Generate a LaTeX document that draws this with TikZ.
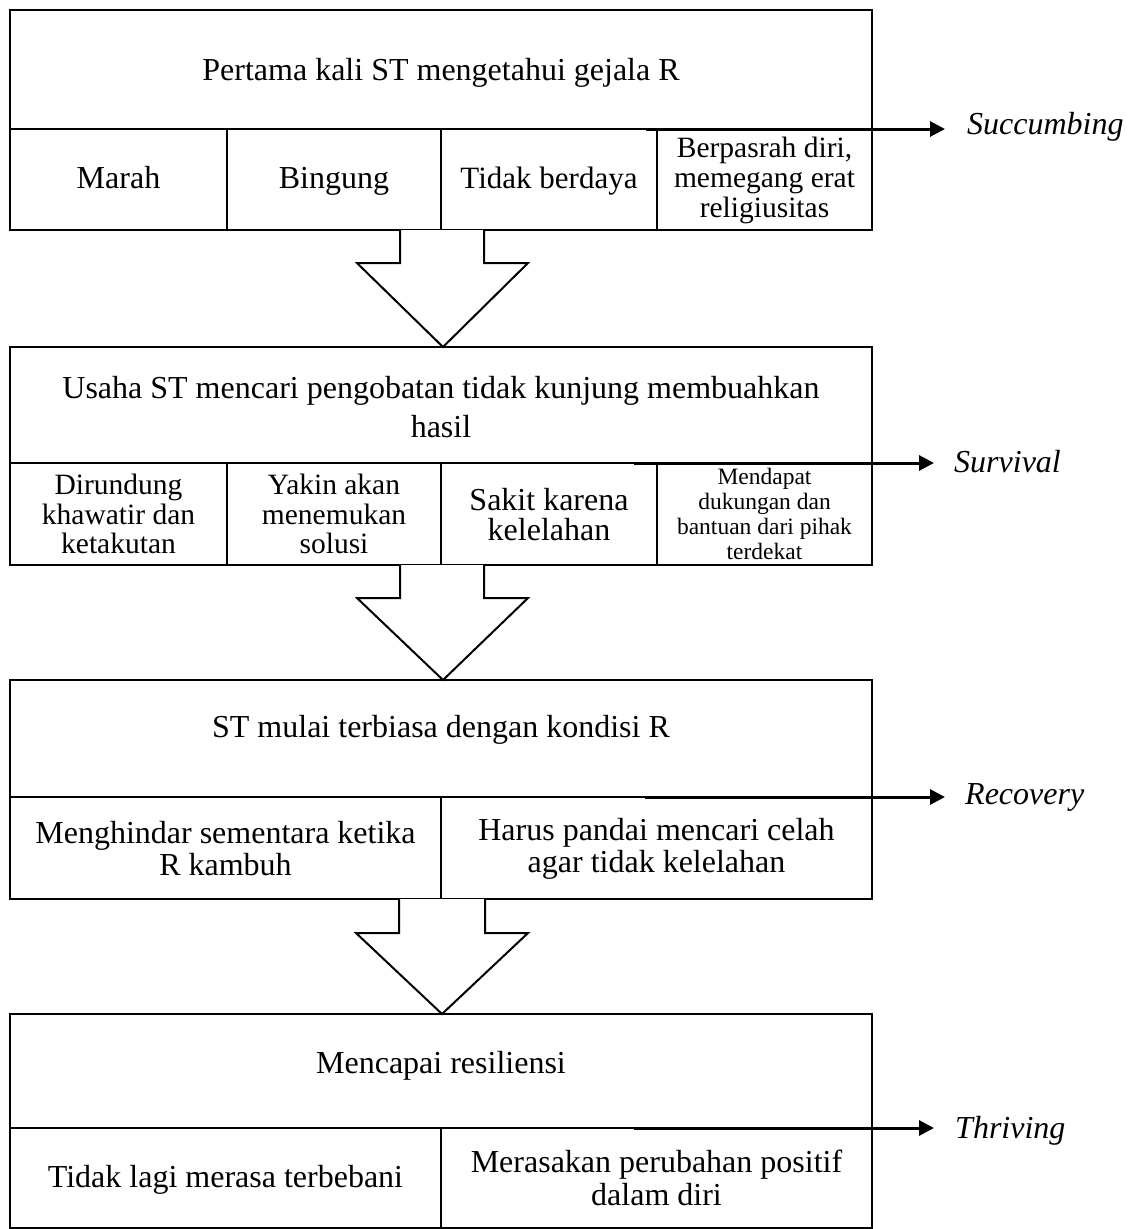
\documentclass[tikz,border=0pt]{standalone}
\usepackage{fontspec}
\setmainfont{Liberation Serif}
\usetikzlibrary{arrows.meta}
\begin{document}
\begin{tikzpicture}[x=1pt,y=-1pt,
  cell/.style={draw, line width=2pt, inner sep=0pt},
  txt/.style={inner sep=0pt, align=center, font=\fontsize{32}{34}\selectfont},
  oneline/.style={text height=22.4pt, text depth=7.4pt},
  txtm/.style={inner sep=0pt, align=center, font=\fontsize{29.5}{29.5}\selectfont},
  txts/.style={inner sep=0pt, align=center, font=\fontsize{23.5}{25}\selectfont},
  lab/.style={inner sep=0pt, anchor=west, font=\itshape\fontsize{32}{34}\selectfont},
  flow/.style={line width=3pt, -{Triangle[length=15pt,width=15pt]}},
  blockarrow/.style={draw, line width=2pt, fill=white, line join=miter}]
\useasboundingbox (0,0) rectangle (1139,1229);

% ---- Box 1
\node[cell, minimum width=862pt, minimum height=119pt] (b1) at (441,69.5) {};
\node[cell, minimum width=217pt, minimum height=101pt] (b1c1) at (118.5,179.5) {};
\node[cell, minimum width=214pt, minimum height=101pt] (b1c2) at (334,179.5) {};
\node[cell, minimum width=216pt, minimum height=101pt] (b1c3) at (549,179.5) {};
\node[cell, minimum width=215pt, minimum height=101pt] (b1c4) at (764.5,179.5) {};
\node[txt, oneline] (b1t) at (441,72.5) {Pertama kali ST mengetahui gejala R};
\node[txt, oneline] (b1c1t) at (118.5,180.5) {Marah};
\node[txt, oneline] (b1c2t) at (334,180.5) {Bingung};
\node[txt, oneline, font=\fontsize{31}{34}\selectfont] (b1c3t) at (549,180.5) {Tidak berdaya};
\node[txtm, font=\fontsize{29.5}{30}\selectfont] (b1c4t) at (764.5,180) {Berpasrah diri,\\memegang erat\\religiusitas};

% ---- Box 2
\node[cell, minimum width=862pt, minimum height=116pt] (b2) at (441,405) {};
\node[cell, minimum width=217pt, minimum height=102pt] (b2c1) at (118.5,514) {};
\node[cell, minimum width=214pt, minimum height=102pt] (b2c2) at (334,514) {};
\node[cell, minimum width=216pt, minimum height=102pt] (b2c3) at (549,514) {};
\node[cell, minimum width=215pt, minimum height=102pt] (b2c4) at (764.5,514) {};
\node[txt, font=\fontsize{32}{39}\selectfont] (b2t) at (441,407) {Usaha ST mencari pengobatan tidak kunjung membuahkan\\hasil};
\node[txtm] (b2c1t) at (118.5,514) {Dirundung\\khawatir dan\\ketakutan};
\node[txtm] (b2c2t) at (334,514) {Yakin akan\\menemukan\\solusi};
\node[txt, font=\fontsize{32}{30}\selectfont] (b2c3t) at (549,515) {Sakit karena\\kelelahan};
\node[txts] (b2c4t) at (764.5,514) {Mendapat\\dukungan dan\\bantuan dari pihak\\terdekat};

% ---- Box 3
\node[cell, minimum width=862pt, minimum height=117pt] (b3) at (441,738.5) {};
\node[cell, minimum width=431pt, minimum height=102pt] (b3c1) at (225.5,848) {};
\node[cell, minimum width=431pt, minimum height=102pt] (b3c2) at (656.5,848) {};
\node[txt, oneline] (b3t) at (441,729.5) {ST mulai terbiasa dengan kondisi R};
\node[txt, font=\fontsize{32}{32}\selectfont] (b3c1t) at (225.5,849) {Menghindar sementara ketika\\R kambuh};
\node[txt, font=\fontsize{32}{32}\selectfont] (b3c2t) at (656.5,849) {Harus pandai mencari celah\\agar tidak kelelahan};

% ---- Box 4
\node[cell, minimum width=862pt, minimum height=114pt] (b4) at (441,1071) {};
\node[cell, minimum width=431pt, minimum height=100pt] (b4c1) at (225.5,1178) {};
\node[cell, minimum width=431pt, minimum height=100pt] (b4c2) at (656.5,1178) {};
\node[txt, oneline] (b4t) at (441,1065.5) {Mencapai resiliensi};
\node[txt, oneline] (b4c1t) at (225.5,1179.5) {Tidak lagi merasa terbebani};
\node[txt, font=\fontsize{32}{33}\selectfont] (b4c2t) at (656.5,1178) {Merasakan perubahan positif\\dalam diri};

% ---- Block arrows
\draw[blockarrow] (400,230) -- (400,263) -- (357,263) -- (443,347) -- (528,263) -- (484,263) -- (484,230);
\draw[blockarrow] (400,565) -- (400,598) -- (357,598) -- (443,680) -- (528,598) -- (484,598) -- (484,565);
\draw[blockarrow] (399,899) -- (399,933) -- (356,933) -- (442,1014) -- (528,933) -- (485,933) -- (485,899);

% ---- Stage labels and arrows
\node[lab] (succ) at (967,127) {Succumbing};
\coordinate (a1) at (646,129);
\draw[flow, shorten >=22pt] (a1) -- (a1 -| succ.west);

\node[lab] (surv) at (954,462) {Survival};
\coordinate (a2) at (634,463);
\draw[flow, shorten >=20pt] (a2) -- (a2 -| surv.west);

\node[lab] (reco) at (965,797) {Recovery};
\coordinate (a3) at (645,797);
\draw[flow, shorten >=20pt] (a3) -- (a3 -| reco.west);

\node[lab] (thri) at (955,1131) {Thriving};
\coordinate (a4) at (634,1128);
\draw[flow, shorten >=21pt] (a4) -- (a4 -| thri.west);
\end{tikzpicture}
\end{document}
